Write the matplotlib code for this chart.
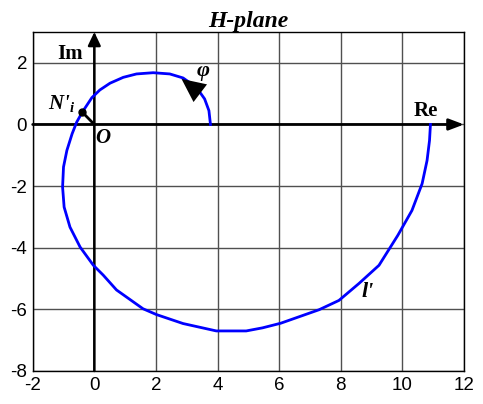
import matplotlib.pyplot as plt

plt.rcParams['axes.unicode_minus'] = False
plt.rcParams['mathtext.fontset'] = 'custom'
plt.rcParams['mathtext.it'] = 'Liberation Serif:italic:bold'
plt.rcParams['mathtext.rm'] = 'Liberation Serif:bold'

# hodograph l' in the H-plane, traced from phi = 0 outward
re_vals = [3.77, 3.72, 3.58, 3.31, 2.88, 2.45, 1.91, 1.37, 0.94, 0.51, 0.18,
           -0.08, -0.39, -0.57, -0.72, -0.89, -1.0, -1.03, -0.98, -0.79,
           -0.46, -0.03, 0.29, 0.72, 1.58, 2.02, 2.88, 3.96, 4.93, 5.46,
           6.05, 7.30, 7.94, 8.59, 9.24, 9.85, 10.31, 10.64, 10.80, 10.88,
           10.91]
im_vals = [0.0, 0.45, 0.83, 1.21, 1.51, 1.64, 1.68, 1.64, 1.53, 1.34, 1.12,
           0.87, 0.40, 0.08, -0.30, -0.84, -1.38, -2.03, -2.68, -3.33,
           -3.98, -4.57, -4.89, -5.37, -5.98, -6.17, -6.46, -6.70, -6.70,
           -6.60, -6.45, -6.01, -5.71, -5.16, -4.57, -3.60, -2.79, -1.92,
           -1.17, -0.52, 0.0]

n_point = (-0.39, 0.40)
xticks = [-2, 0, 2, 4, 6, 8, 10, 12]
yticks = [-8, -6, -4, -2, 0, 2]

fig = plt.figure(figsize=(4.83, 4.04), dpi=100)
ax = fig.add_axes([0.0677, 0.0817, 0.893, 0.839])

ax.set_xlim(-2, 12)
ax.set_ylim(-8, 3)
ax.set_xticks(xticks)
ax.set_yticks(yticks)
ax.grid(True, color='#505050', linewidth=1.0)
ax.tick_params(length=0, labelsize=13.5, pad=4)
for lab in ax.get_xticklabels() + ax.get_yticklabels():
    lab.set_family('Liberation Sans')
for s in ax.spines.values():
    s.set_linewidth(1.0)
    s.set_color('black')

serif = 'Liberation Serif'

# axes with arrows
ax.annotate('', xy=(12, 0), xytext=(-2, 0),
            arrowprops=dict(arrowstyle='-|>,head_length=9,head_width=3.4',
                            mutation_scale=1, lw=2, color='black',
                            shrinkA=0, shrinkB=0))
ax.annotate('', xy=(0, 3), xytext=(0, -8),
            arrowprops=dict(arrowstyle='-|>,head_length=8,head_width=3.8',
                            mutation_scale=1, lw=1.8, color='black',
                            shrinkA=0, shrinkB=0))

ax.plot(re_vals, im_vals, color='#0000ff', lw=2, zorder=5)

# direction of increasing phi
ax.annotate('', xy=(2.83, 1.48), xytext=(3.8, 0.74),
            arrowprops=dict(arrowstyle='-|>,head_length=17,head_width=8',
                            mutation_scale=1, lw=0, color='black',
                            shrinkA=0, shrinkB=0), zorder=6)

ax.plot([0, n_point[0]], [0, n_point[1]], color='black', lw=2, zorder=6)
ax.plot([n_point[0]], [n_point[1]], 'o', color='black', ms=5, zorder=7)

ax.text(-0.79, 2.29, 'Im', family=serif, weight='bold', fontsize=15,
        ha='center', va='center')
ax.text(10.75, 0.45, 'Re', family=serif, weight='bold', fontsize=15,
        ha='center', va='center')
ax.text(0.29, -0.43, 'O', family=serif, weight='bold', style='italic',
        fontsize=15, ha='center', va='center')
ax.text(-1.05, 0.67, r"N'$_{i}$", family=serif,
        weight='bold', style='italic', fontsize=15, ha='center', va='center')
ax.text(3.52, 1.72, 'φ', family=serif, weight='bold', style='italic',
        fontsize=16, ha='center', va='center')
ax.text(8.86, -5.43, "l'", family=serif, weight='bold', style='italic',
        fontsize=16, ha='center', va='center')

ax.set_title('H-plane', family=serif, weight='bold', style='italic',
             fontsize=17, pad=2)

fig.savefig('out.png', dpi=100)
